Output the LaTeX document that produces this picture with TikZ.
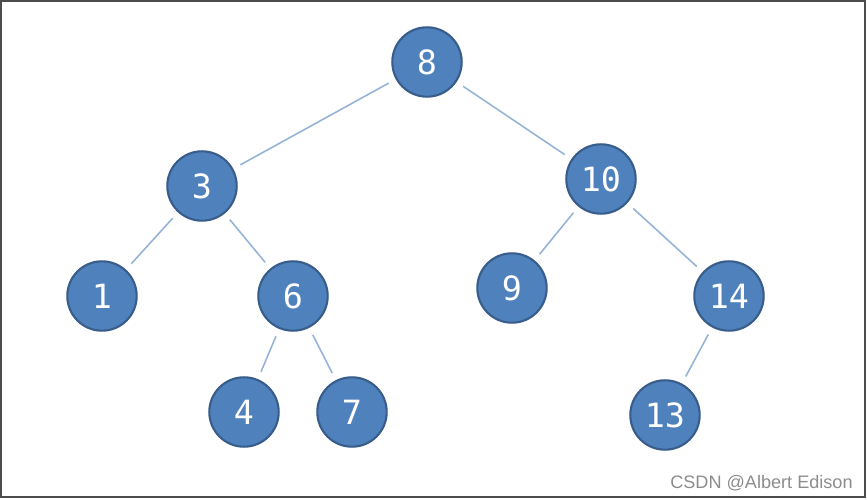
\documentclass[tikz,border=0pt]{standalone}
\usepackage{fontspec}
\setmainfont{Liberation Sans}
\newfontfamily\digitfont{DejaVu Sans Mono}
\usetikzlibrary{calc}
\definecolor{nodeblue}{HTML}{4F81BD}
\definecolor{nodeedge}{HTML}{385D8A}
\definecolor{edgeblue}{HTML}{95B3D7}
\tikzset{
  key/.style={circle,draw=nodeedge,line width=1.2pt,fill=nodeblue,
    minimum size=39.5pt,inner sep=0pt,text=white,
    font=\digitfont\fontsize{19}{20}\selectfont},
  link/.style={-,draw=edgeblue,line width=0.9pt,shorten >=4.5pt,shorten <=4.5pt}
}

\begin{document}
\begin{tikzpicture}[x=0.02cm,y=-0.02cm]
    \useasboundingbox (0,0) rectangle (867,500);
    \draw[line width=0.8pt,draw=black!70] (1,1) rectangle (865,497);

    % Root and second level
    \node[key] (n8) at (427,62) {8};
    \node[key] (n3) at (202,186) {3};
    \node[key] (n10) at (601,179) {10};

    % Third level
    \node[key] (n1) at (102,296) {1};
    \node[key] (n6) at (293,296) {6};
    \node[key] (n9) at (512,288) {9};
    \node[key] (n14) at (729,296) {14};

    % Leaves
    \node[key] (n4) at (244,412) {4};
    \node[key] (n7) at (352,412) {7};
    \node[key] (n13) at (665,415) {13};

    % Edges
    \draw[link] (n8) -- (n3);
    \draw[link] (n8) -- (n10);
    \draw[link] (n3) -- (n1);
    \draw[link] (n3) -- (n6);
    \draw[link] (n10) -- (n9);
    \draw[link] (n10) -- (n14);
    \draw[link] (n6) -- (n4);
    \draw[link] (n6) -- (n7);
    \draw[link] (n14) -- (n13);

    % Watermark
    \node[anchor=base east,text=black!45,font=\fontsize{10.3}{11}\selectfont,inner sep=0pt]
        (mark) at (853,489) {CSDN @Albert Edison};
\end{tikzpicture}
\end{document}
